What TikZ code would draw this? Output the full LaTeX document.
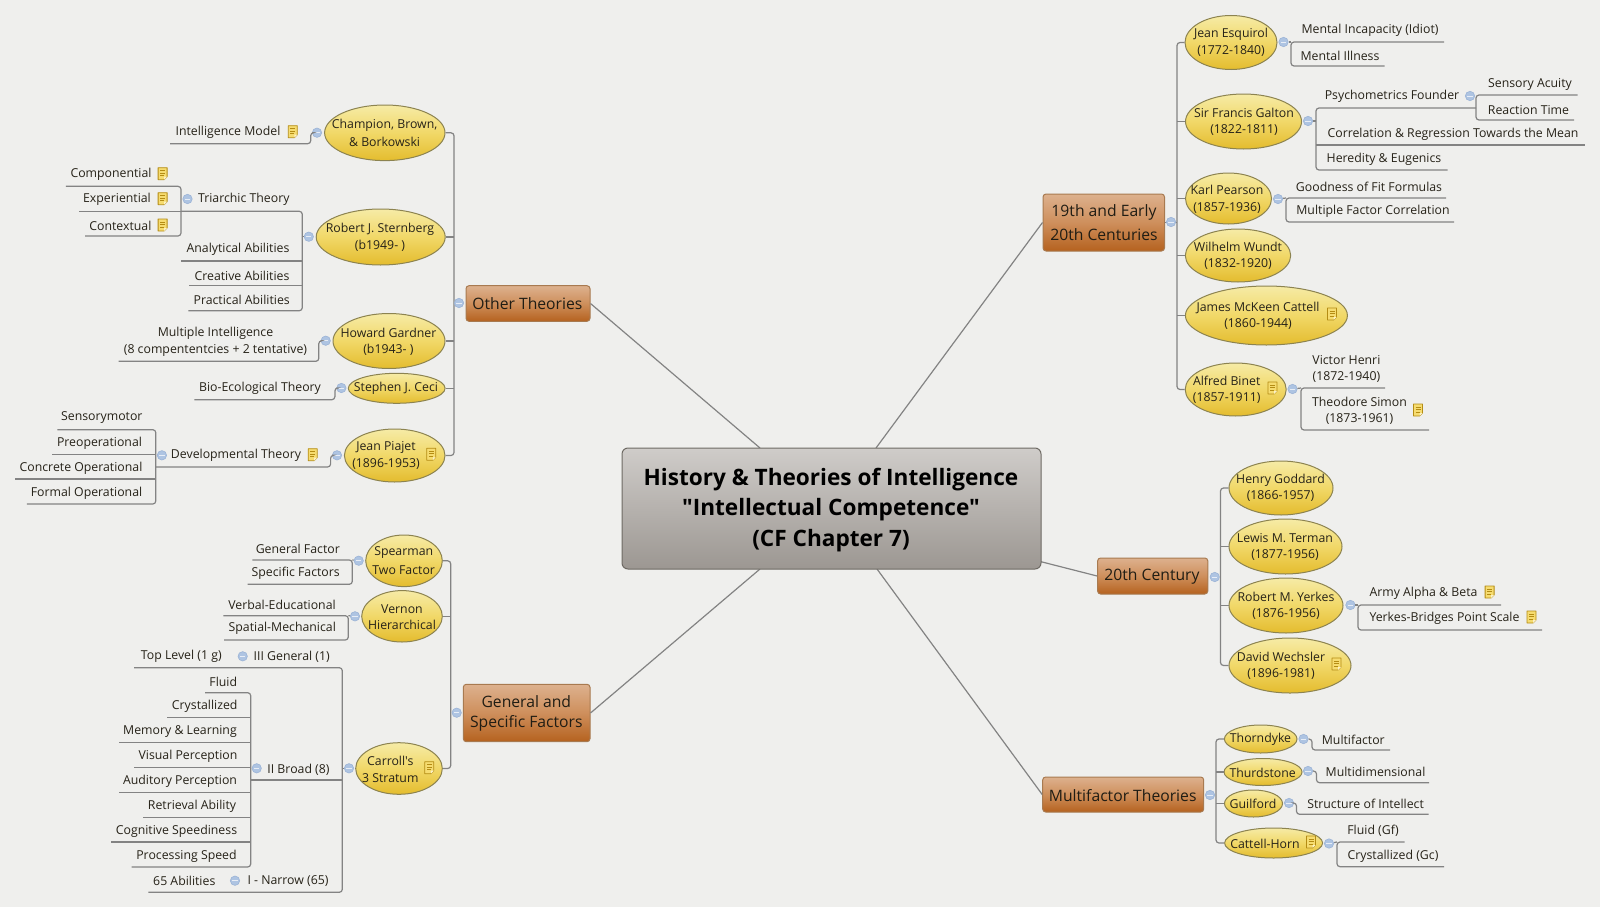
\documentclass[tikz,border=0pt]{standalone}
\usepackage{fontspec}
\newfontfamily\mf{Open Sans}
\usetikzlibrary{shapes.geometric}
\definecolor{bgc}{HTML}{EFEFED}
\definecolor{txt}{HTML}{262218}
\definecolor{lnc}{HTML}{838383}
\definecolor{ely}{HTML}{F6EBA6}
\definecolor{elm}{HTML}{F1D868}
\definecolor{elb}{HTML}{E4BC2E}
\definecolor{eld}{HTML}{8C8350}
\definecolor{bxt}{HTML}{DDB18E}
\definecolor{bxm}{HTML}{CE8F5C}
\definecolor{bxb}{HTML}{B5621F}
\definecolor{bxd}{HTML}{A87A50}
\definecolor{mnt}{HTML}{CFCCC9}
\definecolor{mnb}{HTML}{9C9792}
\definecolor{mnd}{HTML}{6E6A64}
\definecolor{clf}{HTML}{AEC4E2}
\definecolor{cld}{HTML}{9BB3D6}
\definecolor{ntf}{HTML}{F6DC70}
\definecolor{ntd}{HTML}{B48C14}
\tikzset{
  x=1pt,y=-1pt,
  conn/.style={draw=lnc,line width=1.2pt,rounded corners=3pt},
  link/.style={draw=lnc,line width=1.2pt},
  ell/.style={ellipse,draw=eld,line width=1pt,inner sep=0pt,top color=ely,bottom color=elb,middle color=elm},
  box/.style={rectangle,rounded corners=3pt,draw=bxd,line width=1pt,inner sep=0pt,top color=bxt,bottom color=bxb,middle color=bxm},
  mainbox/.style={rectangle,rounded corners=6pt,draw=mnd,line width=1pt,inner sep=0pt,top color=mnt,bottom color=mnb},
  lab/.style={inner sep=0pt,yshift=-1pt,text=txt,align=center,font=\mf\fontsize{12.3}{16.5}\selectfont},
  boxlab/.style={inner sep=0pt,text=txt!85!black,align=center,font=\mf\fontsize{15.7}{23.5}\selectfont},
  mainlab/.style={inner sep=0pt,text=black,align=center,font=\mf\fontsize{22.6}{30.5}\selectfont\bfseries},
  collc/.style={circle,draw=cld,fill=clf,line width=.6pt,inner sep=0pt,minimum size=9.4pt},
}
\newcommand{\leafn}[7]{% name, cx, cy, text, x1, x2, yline
  \node[lab] (#1) at (#2,#3) {#4};
  \coordinate (#1-a) at (#5,#7);
  \coordinate (#1-b) at (#6,#7);}
\newcommand{\ul}[1]{\draw[conn] (#1-a) -- (#1-b);}
\newcommand{\elnode}[8]{% name, cx, cy, rx, ry, tx, ty, text
  \node[ell,minimum width=2*#4 pt,minimum height=2*#5 pt] (#1) at (#2,#3) {};
  \node[lab] (#1-t) at (#6,#7) {#8};}
\newcommand{\coll}[3]{%
  \node[collc] (#1) at (#2,#3) {};
  \draw[white!70!clf,line width=.9pt] ([xshift=-2.6pt]#1.center) -- ([xshift=2.6pt]#1.center);}
\newcommand{\note}[2]{%
  \begin{scope}[shift={(#1,#2)}]
    \draw[ntd,fill=ntf,line width=.8pt,line join=round] (-4.5,-6) -- (4.5,-6) -- (4.5,3) -- (1.5,6) -- (-4.5,6) -- cycle;
    \draw[ntd,line width=.7pt] (-2.5,-3) -- (2.5,-3) (-2.5,-.5) -- (2.5,-.5) (-2.5,2) -- (1.5,2);
    \fill[white!60!ntf] (1.5,6) -- (1.5,3) -- (4.5,3) -- cycle;
  \end{scope}}
\begin{document}
\begin{tikzpicture}
\fill[bgc] (0,0) rectangle (1600,907);
\useasboundingbox (0,0) rectangle (1600,907);

% main node and branch boxes
\coordinate (m-ur) at (876,448);
\coordinate (m-r) at (1041,561.7);
\coordinate (m-lr) at (877,569);
\coordinate (m-ul) at (760,448);
\coordinate (m-ll) at (760,569);
\node[box,minimum width=121.5pt,minimum height=57pt] (b19) at (1103.75,222.5) {};
\node[box,minimum width=110.2pt,minimum height=36pt] (b20) at (1152.7,576) {};
\node[box,minimum width=161pt,minimum height=35pt] (bmf) at (1123.2,794.5) {};
\node[box,minimum width=124pt,minimum height=35.6pt] (bot) at (528,303.5) {};
\node[box,minimum width=126.7pt,minimum height=57.4pt] (bgs) at (526.65,713) {};
\draw[link] (m-ur) -- (b19.west);
\draw[link] (m-r) -- (b20.west);
\draw[link] (m-lr) -- (bmf.west);
\draw[link] (m-ul) -- (bot.east);
\draw[link] (m-ll) -- (bgs.east);
\node[mainbox,minimum width=419pt,minimum height=121pt] (main) at (831.5,508.5) {};
\node[mainlab] (main-t) at (831,510) {History \& Theories of Intelligence\\"Intellectual Competence"\\(CF Chapter 7)};
\node[boxlab] (b19-t) at (1104,222.5) {19th and Early\\20th Centuries};
\node[boxlab] (b20-t) at (1152,576.5) {20th Century};
\node[boxlab] (bmf-t) at (1122.7,796) {Multifactor Theories};
\node[boxlab] (bot-t) at (527.4,304) {Other Theories};
\node[boxlab,font=\mf\fontsize{15.7}{20.5}\selectfont] (bgs-t) at (526.3,713.5) {General and\\Specific Factors};

% ---------- 19th and Early 20th Centuries
\elnode{esq}{1231}{42.5}{46}{27}{1231}{41.5}{Jean Esquirol\\[1pt](1772-1840)}
\elnode{gal}{1243.5}{121.5}{58}{27.5}{1244}{121}{Sir Francis Galton\\(1822-1811)}
\elnode{pea}{1228.5}{198.5}{43}{25.5}{1227}{198.5}{Karl Pearson\\(1857-1936)}
\elnode{wun}{1238}{255.5}{52.7}{26.5}{1238}{255}{Wilhelm Wundt\\(1832-1920)}
\elnode{cat}{1266.4}{315.5}{81}{29.5}{1258}{315}{James McKeen Cattell\\(1860-1944)}
\elnode{bin}{1235.7}{389.5}{50.5}{26.5}{1226.7}{389}{Alfred Binet\\(1857-1911)}
\coordinate (s19t) at (1177,42.5);
\coordinate (s19b) at (1177,389.5);
\draw[conn] (esq.west) -- (s19t) -- (s19b) -- (bin.west);
\foreach \n in {gal,pea,wun,cat} {\draw[conn] (\n.west) -- (\n.west -| s19t);}
\draw[conn] (b19.east) -- (b19.east -| s19t);
\coll{c19}{1171}{222}

\coll{cesq}{1283.5}{42}
\leafn{l1}{1370}{29}{Mental Incapacity (Idiot)}{1291}{1444}{42}
\leafn{l2}{1340}{55}{Mental Illness}{1291}{1384.5}{66}
\draw[conn] (l1-b) -- (l1-a) -- (l2-a) -- (l2-b);
\draw[conn] (cesq) -- (l1-a);

\coll{cgal}{1308}{121}
\leafn{l3}{1392}{95}{Psychometrics Founder}{1316}{1476}{108}
\leafn{l4}{1453}{133}{Correlation \& Regression Towards the Mean}{1316}{1584.5}{145}
\leafn{l5}{1384}{158}{Heredity \& Eugenics}{1316}{1447.5}{170}
\draw[conn] (l3-b) -- (l3-a) -- (l5-a) -- (l5-b);
\ul{l4}
\draw[conn] (cgal) -- (cgal -| l3-a);
\coll{cpsy}{1470}{96}
\leafn{l6}{1530}{83}{Sensory Acuity}{1476}{1577.6}{95}
\leafn{l7}{1528.5}{109}{Reaction Time}{1476}{1574}{120}
\draw[conn] (l6-b) -- (l6-a) -- (l7-a) -- (l7-b);

\coll{cpea}{1278}{199}
\leafn{l8}{1369}{186}{Goodness of Fit Formulas}{1286}{1446}{198}
\leafn{l9}{1373}{210}{Multiple Factor Correlation}{1286}{1454}{222}
\draw[conn] (l8-b) -- (l8-a) -- (l9-a) -- (l9-b);
\draw[conn] (cpea) -- (l8-a);

\coll{cbin}{1292.5}{389}
\leafn{l10}{1346.4}{368}{Victor Henri\\(1872-1940)}{1301}{1385}{388}
\leafn{l11}{1359.5}{410}{Theodore Simon\\(1873-1961)}{1301}{1429}{430}
\draw[conn] (l10-b) -- (l10-a) -- (l11-a) -- (l11-b);
\draw[conn] (cbin) -- (l10-a);
\note{1332}{314}
\note{1272.5}{388}
\note{1418}{410}

% ---------- 20th Century
\elnode{god}{1281}{488}{52}{27}{1280.5}{487}{Henry Goddard\\(1866-1957)}
\elnode{ter}{1285.5}{546.5}{56.5}{27.5}{1285}{546}{Lewis M. Terman\\(1877-1956)}
\elnode{yer}{1286}{605.5}{57}{27.5}{1286}{605}{Robert M. Yerkes\\(1876-1956)}
\elnode{wec}{1290}{665.5}{61}{27.5}{1281}{665}{David Wechsler\\(1896-1981)}
\coordinate (s20t) at (1220.5,488);
\coordinate (s20b) at (1220.5,665.5);
\draw[conn] (god.west) -- (s20t) -- (s20b) -- (wec.west);
\foreach \n in {ter,yer} {\draw[conn] (\n.west) -- (\n.west -| s20t);}
\coll{c20}{1214.7}{577}
\coll{cyer}{1350.4}{605}
\leafn{l12}{1423.5}{592}{Army Alpha \& Beta}{1358}{1501}{605}
\leafn{l13}{1444.5}{617}{Yerkes-Bridges Point Scale}{1358}{1542}{630}
\draw[conn] (l12-b) -- (l12-a) -- (l13-a) -- (l13-b);
\draw[conn] (cyer) -- (l12-a);
\note{1489.6}{592}
\note{1531.5}{617}
\note{1336.5}{664}

% ---------- Multifactor Theories
\elnode{tho}{1260.7}{739}{36.3}{14}{1260.5}{738}{Thorndyke}
\elnode{thu}{1263}{772}{39}{13.5}{1262.7}{771.7}{Thurdstone}
\elnode{gui}{1253.5}{803.5}{29}{13.5}{1253}{802.7}{Guilford}
\elnode{cah}{1273.6}{843}{49}{15}{1265}{843}{Cattell-Horn}
\coordinate (smft) at (1216,739);
\coordinate (smfb) at (1216,843);
\draw[conn] (tho.west) -- (smft) -- (smfb) -- (cah.west);
\foreach \n in {thu,gui} {\draw[conn] (\n.west) -- (\n.west -| smft);}
\coll{cmf}{1210}{795}
\coll{ctho}{1303.5}{739}
\coll{cthu}{1308}{771}
\coll{cgui}{1289}{803}
\coll{ccah}{1329}{843.5}
\leafn{l14}{1353.3}{738.7}{Multifactor}{1312}{1390}{750}
\leafn{l15}{1375.5}{771}{Multidimensional}{1316.5}{1429}{782.7}
\leafn{l16}{1365.6}{802.7}{Structure of Intellect}{1296.5}{1428.5}{814.3}
\leafn{l17}{1373}{830}{Fluid (Gf)}{1337}{1404.5}{842}
\leafn{l18}{1393}{855}{Crystallized (Gc)}{1337}{1444}{866.7}
\draw[conn] (ctho) -| (l14-a) -- (l14-b);
\draw[conn] (cthu) -| (l15-a) -- (l15-b);
\draw[conn] (cgui) -| (l16-a) -- (l16-b);
\draw[conn] (l17-b) -- (l17-a) -- (l18-a) -- (l18-b);
\draw[conn] (ccah) -- (l17-a);
\note{1311}{842}

% ---------- Other Theories
\elnode{cha}{384.8}{132.8}{60.2}{27.8}{384.6}{131.5}{Champion, Brown,\\[1.5pt]\& Borkowski}
\elnode{ste}{380.7}{237}{64.5}{28}{380}{236.5}{Robert J. Sternberg\\(b1949- )}
\elnode{gar}{389}{341}{56}{27.5}{388.4}{341}{Howard Gardner\\(b1943- )}
\elnode{cec}{396.7}{388.3}{48.4}{15}{396}{387.7}{Stephen J. Ceci}
\elnode{pia}{394.7}{455.5}{50.3}{26.5}{386}{454.7}{Jean Piajet\\(1896-1953)}
\coordinate (sott) at (454,132.8);
\coordinate (sotb) at (454,455.5);
\draw[conn] (cha.east) -- (sott) -- (sotb) -- (pia.east);
\foreach \n in {ste,gar,cec} {\draw[conn] (\n.east) -- (\n.east -| sott);}
\coll{cot}{459}{303}

\coll{ccha}{317}{132.7}
\leafn{l20}{228}{131.7}{Intelligence Model}{170}{310.7}{143.7}
\draw[conn] (ccha) -| (l20-b) -- (l20-a);
\note{292.8}{131.7}

\coll{cste}{308.8}{236.7}
\leafn{l21}{243.8}{198.7}{Triarchic Theory}{181}{302.3}{211.3}
\leafn{l22}{238}{248.3}{Analytical Abilities}{181}{302.3}{261}
\leafn{l23}{242}{274.5}{Creative Abilities}{189.4}{302.3}{285.7}
\leafn{l24}{241.7}{299.2}{Practical Abilities}{188.3}{302.3}{310.7}
\draw[conn] (l21-a) -- (l21-b) -- (l24-b) -- (l24-a);
\ul{l22}\ul{l23}
\draw[conn] (cste) -- (cste -| l21-b);
\coll{ctri}{187.5}{199}
\leafn{l25}{111}{173.7}{Componential}{65.8}{181}{186.3}
\leafn{l26}{117}{198.7}{Experiential}{79}{181}{211.3}
\leafn{l27}{120.4}{224.5}{Contextual}{85}{181}{236}
\draw[conn] (l25-a) -- (l25-b) -- (l27-b) -- (l27-a);
\ul{l26}
\note{162.6}{173.7}
\note{162.6}{198.7}
\note{162.6}{225}

\coll{cgar}{325.7}{340.7}
\leafn{l28}{215.5}{341}{Multiple Intelligence\\(8 compententcies + 2 tentative)}{118.6}{318.8}{361.3}
\draw[conn] (cgar) -| (l28-b) -- (l28-a);

\coll{ccec}{341.4}{388}
\leafn{l29}{260}{387.7}{Bio-Ecological Theory}{194.4}{334.9}{399.7}
\draw[conn] (ccec) -| (l29-b) -- (l29-a);

\coll{cpia}{337}{455.3}
\leafn{l30}{236}{454.7}{Developmental Theory}{155.8}{330.6}{467}
\draw[conn] (cpia) -| (l30-b) -- (l30-a);
\note{312.7}{454.7}
\note{431.3}{454.3}
\coll{cdev}{161.9}{455.3}
\leafn{l31}{101.8}{417}{Sensorymotor}{57.4}{155.8}{429.7}
\leafn{l32}{99.5}{442.3}{Preoperational}{52.4}{155.8}{454.3}
\leafn{l33}{81}{467}{Concrete Operational}{15.3}{155.8}{479}
\leafn{l34}{86.5}{492}{Formal Operational}{26.8}{155.8}{504}
\draw[conn] (l31-a) -- (l31-b) -- (l34-b) -- (l34-a);
\ul{l32}\ul{l33}

% ---------- General and Specific Factors
\elnode{spe}{404}{560.8}{38.3}{25.8}{403.7}{559.5}{Spearman\\[2pt]Two Factor}
\elnode{ver}{402}{616.3}{40.3}{25.7}{402}{616}{Vernon\\Hierarchical}
\elnode{car}{399}{768.5}{43.3}{25.8}{390.3}{768.5}{Carroll's\\3 Stratum}
\coordinate (sgst) at (450.7,560.8);
\coordinate (sgsb) at (450.7,768.5);
\draw[conn] (spe.east) -- (sgst) -- (sgsb) -- (car.east);
\draw[conn] (ver.east) -- (ver.east -| sgst);
\coll{cgs}{456.7}{712.7}

\coll{cspe}{358.7}{560.7}
\leafn{l40}{297.8}{548}{General Factor}{252.3}{352.3}{560}
\leafn{l41}{295.7}{572.3}{Specific Factors}{247.7}{352.3}{584.3}
\draw[conn] (l40-a) -- (l40-b) -- (l41-b) -- (l41-a);
\draw[conn] (cspe) -- (l40-b);

\coll{cver}{355}{616.3}
\leafn{l42}{282}{604}{Verbal-Educational}{223.3}{348.3}{615.7}
\leafn{l43}{282.3}{627.7}{Spatial-Mechanical}{224}{348.3}{640}
\draw[conn] (l42-a) -- (l42-b) -- (l43-b) -- (l43-a);
\draw[conn] (cver) -- (l42-b);

\coll{ccar}{349}{768.3}
\leafn{l44}{291.7}{656}{III General (1)}{134}{342.3}{667.7}
\leafn{l45}{298.5}{768.3}{II Broad (8)}{250.7}{342.3}{780}
\leafn{l46}{288}{880}{I - Narrow (65)}{148.3}{342.3}{892.3}
\draw[conn] (l44-a) -- (l44-b) -- (l46-b) -- (l46-a);
\ul{l45}
\draw[conn] (ccar) -- (ccar -| l44-b);
\note{429.3}{767.7}
\coll{cgen}{242.7}{656.3}
\coll{cbro}{256.7}{768.3}
\coll{cnar}{235}{880.7}
\node[lab] (l47) at (181.3,655.7) {Top Level (1 g)};
\node[lab] (l48) at (184.3,879.7) {65 Abilities};

\leafn{l50}{223.3}{680.7}{Fluid}{205}{250.7}{692.7}
\leafn{l51}{204.7}{705.3}{Crystallized}{167.3}{250.7}{717.7}
\leafn{l52}{180}{730.3}{Memory \& Learning}{119}{250.7}{742.7}
\leafn{l53}{188}{755.3}{Visual Perception}{134}{250.7}{767.3}
\leafn{l54}{180}{780.3}{Auditory Perception}{119}{250.7}{792.3}
\leafn{l55}{192}{805}{Retrieval Ability}{143.3}{250.7}{817.3}
\leafn{l56}{176.5}{830}{Cognitive Speediness}{111}{250.7}{842}
\leafn{l57}{186.5}{855}{Processing Speed}{131.7}{250.7}{867}
\draw[conn] (l50-a) -- (l50-b) -- (l57-b) -- (l57-a);
\ul{l51}\ul{l52}\ul{l53}\ul{l54}\ul{l55}\ul{l56}
\end{tikzpicture}
\end{document}
